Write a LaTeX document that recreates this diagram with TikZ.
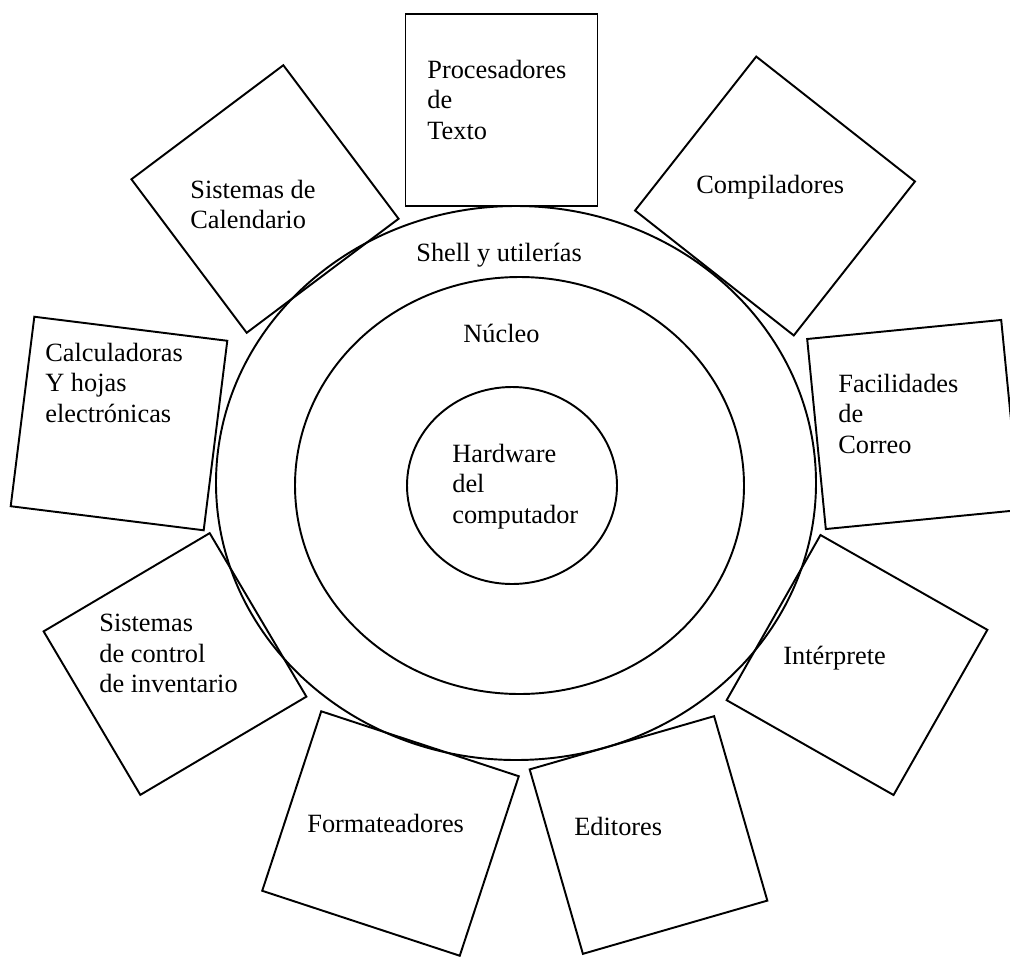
\documentclass[tikz,border=0pt]{standalone}
\usepackage{fontspec}
\setmainfont{Liberation Serif}
\tikzset{
  progbox/.style={draw, line width=1.1pt, minimum width=3.84cm, minimum height=3.84cm, inner sep=0pt},
  ring/.style={line width=1.1pt},
  lbl/.style={inner sep=0pt, align=left, font=\fontsize{15}{17.2}\selectfont}
}
\begin{document}
\begin{tikzpicture}[x=0.02cm, y=-0.02cm]
      \useasboundingbox (0,0) rectangle (1010,957);
      \clip (0,0) rectangle (1010,957);

      \draw[ring] (516,483) ellipse [x radius=300, y radius=277];
      \draw[ring] (519.5,485.5) ellipse [x radius=224.5, y radius=208.5];
      \draw[ring] (512,485.5) ellipse [x radius=105, y radius=98.5];

      \node[progbox] (proc) at (501.5,110) {};
      \node[progbox, rotate=-38.2, minimum width=4.04cm, minimum height=3.92cm] (comp) at (775,196) {};
      \node[progbox, rotate=5.6, minimum width=3.9cm, minimum height=3.82cm] (correo) at (913.5,424.5) {};
      \node[progbox, rotate=-29.6, minimum height=3.8cm] (interp) at (857,665) {};
      \node[progbox, rotate=16.1] (edit) at (648.5,835) {};
      \node[progbox, rotate=-18.2, minimum width=4.16cm, minimum height=3.78cm] (format) at (390.5,833.5) {};
      \node[progbox, rotate=30.6, minimum width=3.86cm, minimum height=3.8cm] (invent) at (175,664) {};
      \node[progbox, rotate=-7.1, minimum width=3.89cm, minimum height=3.82cm] (calc) at (119,423.5) {};
      \node[progbox, rotate=36.9, minimum width=3.8cm] (calend) at (265,199) {};

      \node[lbl, anchor=north west] (proctxt) at (427,60) {Procesadores\\de\\Texto};
      \node[lbl, anchor=base west] (comptxt) at (696,193) {Compiladores};
      \node[lbl, anchor=north west] (correotxt) at (838,374) {Facilidades\\de\\Correo};
      \node[lbl, anchor=base west] (interptxt) at (783,664) {Intérprete};
      \node[lbl, anchor=base west] (edittxt) at (574,835) {Editores};
      \node[lbl, anchor=base west] (formattxt) at (307,832) {Formateadores};
      \node[lbl, anchor=north west] (inventtxt) at (99,614) {Sistemas\\de control\\de inventario};
      \node[lbl, anchor=north west] (calctxt) at (45,343) {Calculadoras\\Y hojas\\electrónicas};
      \node[lbl, anchor=north west] (calendtxt) at (190,180) {Sistemas de\\Calendario};

      \node[lbl, anchor=base west] (shell) at (416,261) {Shell y utilerías};
      \node[lbl, anchor=base west] (nucleo) at (463,342) {Núcleo};
      \node[lbl, anchor=north west] (hw) at (452,444) {Hardware\\del\\computador};
\end{tikzpicture}
\end{document}
